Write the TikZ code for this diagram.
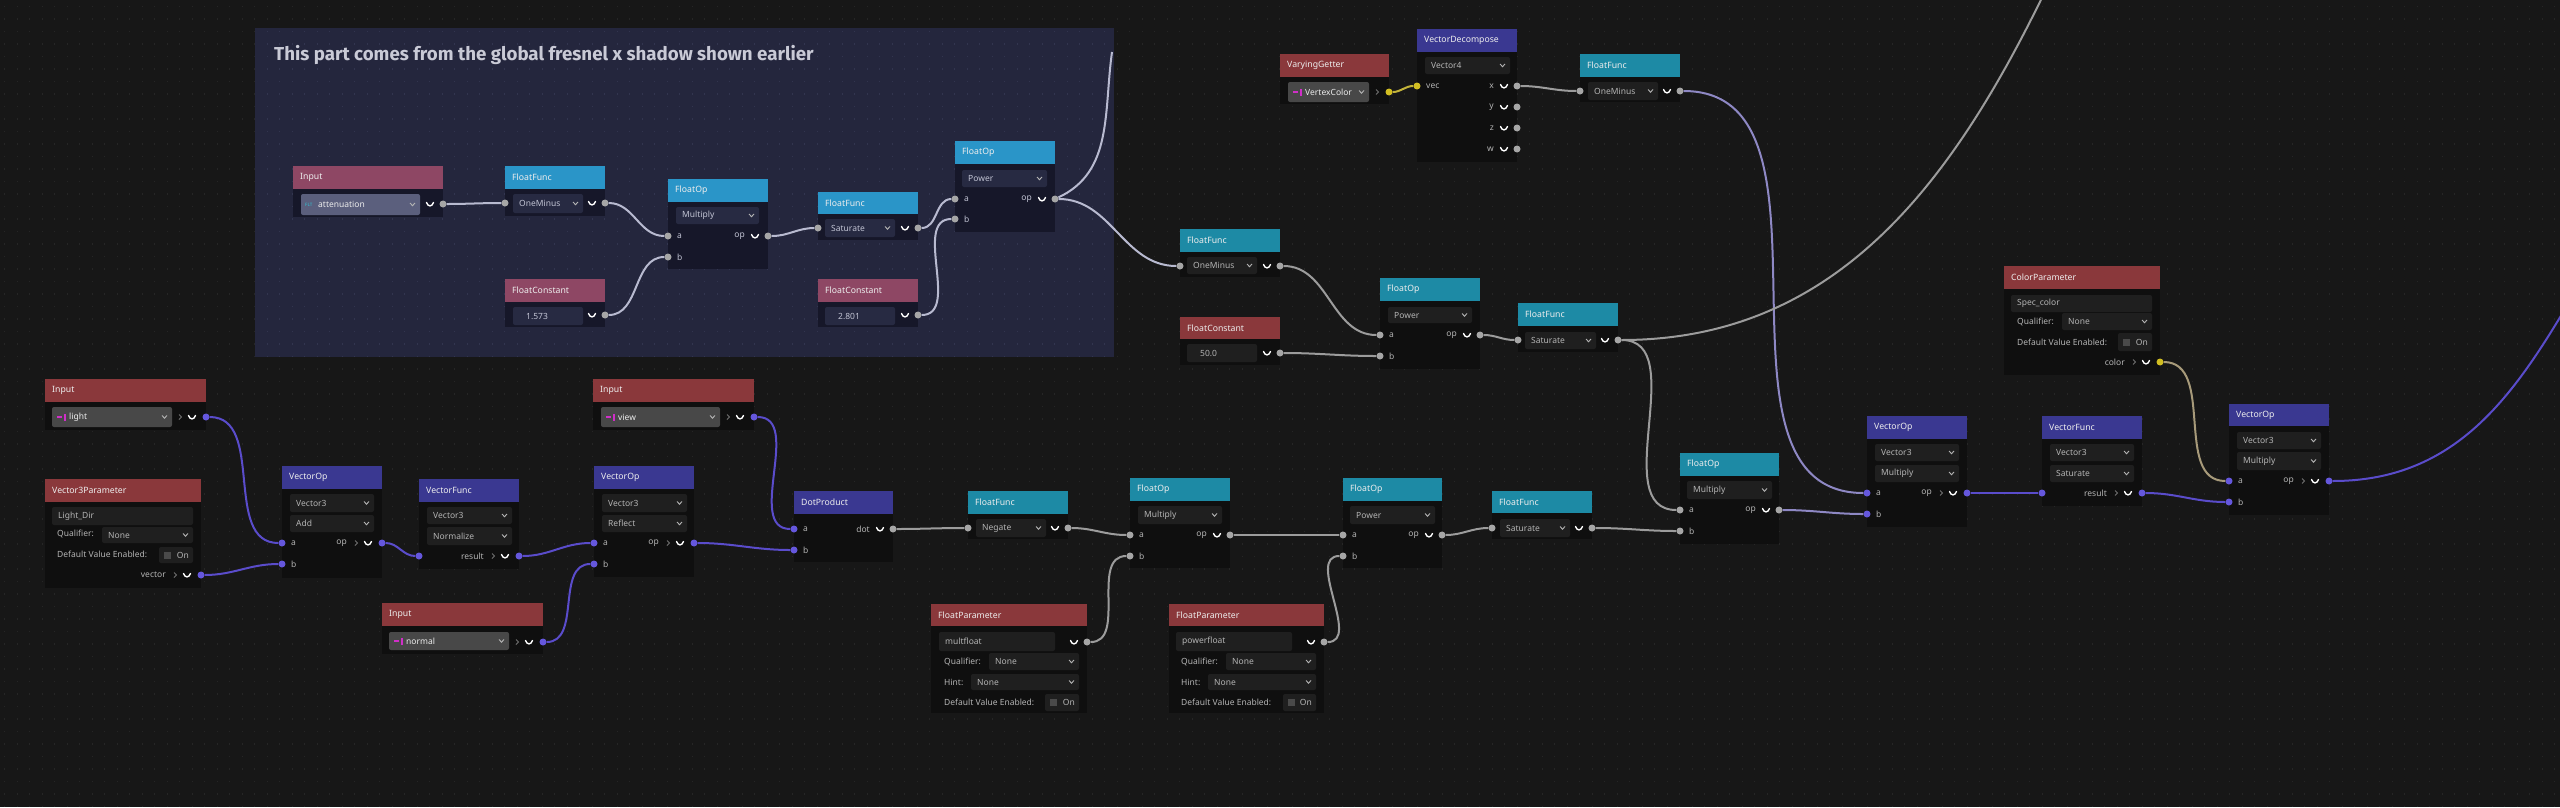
\documentclass[tikz,border=0pt]{standalone}
\usepackage{fontspec}
\setmainfont{Noto Sans}
\newfontfamily\titlefont{Fira Sans}

\definecolor{canvasbg}{HTML}{171717}
\definecolor{canvasdot}{HTML}{262626}
\definecolor{groupbg}{HTML}{24263D}
\definecolor{groupdot}{HTML}{32354F}
\definecolor{bodybg}{HTML}{0F0F0F}
\definecolor{gbodybg}{HTML}{161729}
\definecolor{dropfill}{HTML}{1F1F1F}
\definecolor{gdropfill}{HTML}{272A42}
\definecolor{indropfill}{HTML}{484848}
\definecolor{gindropfill}{HTML}{5B5F7D}
\definecolor{hred}{HTML}{8A383B}
\definecolor{hteal}{HTML}{1D8AA5}
\definecolor{hindigo}{HTML}{3A3891}
\definecolor{gpink}{HTML}{8E4764}
\definecolor{gblue}{HTML}{2A95C8}
\definecolor{headfg}{HTML}{EDEDED}
\definecolor{bodyfg}{HTML}{B4B4B4}
\definecolor{gbodyfg}{HTML}{C2C4D4}
\definecolor{titlefg}{HTML}{C9CAD6}
\definecolor{sockgray}{HTML}{A6A6A6}
\definecolor{sockvec}{HTML}{6557DD}
\definecolor{sockcol}{HTML}{D2BE22}
\definecolor{wiregray}{HTML}{9C9C9C}
\definecolor{gwiregray}{HTML}{B8BAD0}
\definecolor{wirevec}{HTML}{5A4CCB}
\definecolor{wiremix}{HTML}{8E88C4}
\definecolor{wirecol}{HTML}{C4B43A}
\definecolor{wirecolvec}{HTML}{A79A7A}
\definecolor{tickbg}{HTML}{4A4A4A}
\definecolor{iconmag}{HTML}{D02FC8}
\definecolor{iconcyan}{HTML}{2FC8D8}
\definecolor{arrowfg}{HTML}{707070}

% node frame: name, left, top, right, header bottom, body bottom, header colour, title
\newcommand{\gnode}[8]{%
  \fill[nodebody] (#2,#5) rectangle (#4,#6);
  \fill[#7] (#2,#3) rectangle (#4,#5);
  \node[headtext] (#1) at ({#2+7},{(#3+#5)/2}) {#8};}
% text field and drop-down: name, left, top, right, bottom, text
\newcommand{\txtfield}[6]{%
  \fill[dropbg] (#2,#3) rectangle (#4,#5);
  \node[bodytext, anchor=west] (#1) at ({#2+6},{(#3+#5)/2}) {#6};}
\newcommand{\dropdown}[6]{%
  \txtfield{#1}{#2}{#3}{#4}{#5}{#6}
  \draw[chevron] ({#4-10},{(#3+#5)/2-1.5}) -- ({#4-7.5},{(#3+#5)/2+1.2}) -- ({#4-5},{(#3+#5)/2-1.5});}
\newcommand{\vecdrop}[6]{%
  \fill[indropfill, rounded corners=2pt] (#2,#3) rectangle (#4,#5);
  \fill[iconmag] ({#2+5},{(#3+#5)/2-1.2}) rectangle ({#2+10},{(#3+#5)/2+1.2});
  \fill[iconmag] ({#2+11.5},{(#3+#5)/2-3.5}) rectangle ({#2+13.5},{(#3+#5)/2+3.5});
  \node[bodytext, anchor=west, text=headfg] (#1) at ({#2+17},{(#3+#5)/2}) {#6};
  \draw[chevron] ({#4-10},{(#3+#5)/2-1.5}) -- ({#4-7.5},{(#3+#5)/2+1.2}) -- ({#4-5},{(#3+#5)/2-1.5});}
% check box: name, left, top, right, bottom
\newcommand{\onbox}[5]{%
  \fill[dropbg] (#2,#3) rectangle (#4,#5);
  \fill[tickbg] ({#2+5},{(#3+#5)/2-3.5}) rectangle ({#2+12},{(#3+#5)/2+3.5});
  \node[bodytext, anchor=east] (#1) at ({#4-4},{(#3+#5)/2}) {On};}
% sockets: name, x, y, label, socket style
\newcommand{\inport}[5]{%
  \node[#5] (#1) at (#2,#3) {};
  \node[bodytext, anchor=west] (#1-l) at ({#2+9},#3) {#4};}
\newcommand{\outport}[5]{%
  \node[#5] (#1) at (#2,#3) {};
  \draw[cupline] ({#2-16.5},{#3-1.5}) .. controls ({#2-15},{#3+3}) and ({#2-11},{#3+3}) .. ({#2-9.5},{#3-1.5});
  \node[bodytext, anchor=east] (#1-l) at ({#2-23},#3) {#4};}
\newcommand{\voutport}[5]{%
  \node[#5] (#1) at (#2,#3) {};
  \draw[cupline] ({#2-17.5},{#3-1.5}) .. controls ({#2-16},{#3+3}) and ({#2-12},{#3+3}) .. ({#2-10.5},{#3-1.5});
  \draw[smallarrow] ({#2-27},{#3-2.5}) -- ({#2-24.5},#3) -- ({#2-27},{#3+2.5});
  \node[bodytext, anchor=east] (#1-l) at ({#2-35},#3) {#4};}

\begin{document}
\begin{tikzpicture}[
    x=1pt, y=-1pt,
    headtext/.style={anchor=west, inner sep=0pt, text=headfg, font=\fontsize{8.7}{10}\selectfont\bfseries},
    bodytext/.style={inner sep=0pt, text=bodyfg, font=\fontsize{8.5}{10}\selectfont},
    titletext/.style={anchor=west, inner sep=0pt, text=titlefg, font=\titlefont\fontsize{18.7}{21}\selectfont\bfseries},
    icontext/.style={anchor=west, inner sep=0pt, text=iconcyan, font=\fontsize{4.5}{5}\selectfont\bfseries},
    nodebody/.style={fill=bodybg},
    dropbg/.style={fill=dropfill, rounded corners=2pt},
    chevron/.style={draw=bodyfg, line width=0.9pt},
    smallarrow/.style={draw=arrowfg, line width=0.8pt},
    cupline/.style={draw=white, line width=1.4pt, line cap=round},
    griddots/.style={draw=canvasdot, line width=1.3pt, dash pattern=on 1.3pt off 11.2pt},
    sockg/.style={circle, fill=sockgray, inner sep=0pt, minimum size=7pt},
    sockv/.style={circle, fill=sockvec, inner sep=0pt, minimum size=7pt},
    socky/.style={circle, fill=sockcol, inner sep=0pt, minimum size=7pt},
    wire/.style={draw=wiregray, line width=2pt},
    gwire/.style={draw=gwiregray, line width=2pt},
    vwire/.style={draw=wirevec, line width=2pt},
    mixwire/.style={draw=wiremix, line width=2pt},
    ywire/.style={draw=wirecol, line width=2pt}
    ]
    % canvas
    \fill[canvasbg] (0,0) rectangle (2560,807);
    \clip (0,0) rectangle (2560,807);
    \foreach \gy in {6.5,19,...,807} \draw[griddots] (4,\gy) -- (2560,\gy);

    % group frame
    \fill[groupbg] (255,28) rectangle (1114,357);
    \begin{scope}
        \clip (255,28) rectangle (1114,357);
        \foreach \gy in {6.5,19,...,357} \draw[griddots, draw=groupdot] (4,\gy) -- (1114,\gy);
    \end{scope}
    \node[titletext] (grouptitle) at (274,55) {This part comes from the global fresnel x shadow shown earlier};

    \begin{scope}[nodebody/.style={fill=gbodybg}, dropbg/.style={fill=gdropfill, rounded corners=2pt},
        bodytext/.append style={text=gbodyfg}]
        \gnode{inatt}{293}{166}{443}{189}{217}{gpink}{Input}
        \fill[gindropfill, rounded corners=2pt] (301,194) rectangle (420,215);
        \node[icontext] (atticon) at (305,204.5) {FLT};
        \node[bodytext, anchor=west, text=headfg] (attdrop) at (318,204.5) {attenuation};
        \draw[chevron] (410,203) -- (412.5,205.7) -- (415,203);
        \outport{att-o}{443}{204}{}{sockg}

        \gnode{omg}{505}{166}{605}{189}{216}{gblue}{FloatFunc}
        \dropdown{omg-d}{513}{194}{583}{213}{OneMinus}
        \inport{omg-i}{505}{203}{}{sockg}
        \outport{omg-o}{605}{203}{}{sockg}

        \gnode{mulg}{668}{179}{768}{202}{269}{gblue}{FloatOp}
        \dropdown{mulg-d}{676}{207}{759}{224}{Multiply}
        \inport{mulg-a}{668}{236}{a}{sockg}
        \inport{mulg-b}{668}{257}{b}{sockg}
        \outport{mulg-o}{768}{236}{op}{sockg}

        \gnode{satg}{818}{192}{918}{214}{240}{gblue}{FloatFunc}
        \dropdown{satg-d}{825}{219}{895}{237}{Saturate}
        \inport{satg-i}{818}{228}{}{sockg}
        \outport{satg-o}{918}{228}{}{sockg}

        \gnode{powg}{955}{141}{1055}{164}{232}{gblue}{FloatOp}
        \dropdown{powg-d}{962}{170}{1047}{187}{Power}
        \inport{powg-a}{955}{199}{a}{sockg}
        \inport{powg-b}{955}{219}{b}{sockg}
        \outport{powg-o}{1055}{199}{op}{sockg}

        \gnode{cst1}{505}{279}{605}{302}{327}{gpink}{FloatConstant}
        \txtfield{cst1-v}{513}{307}{583}{325}{\hspace{7pt}1.573}
        \outport{cst1-o}{605}{315}{}{sockg}

        \gnode{cst2}{818}{279}{918}{302}{327}{gpink}{FloatConstant}
        \txtfield{cst2-v}{825}{307}{895}{325}{\hspace{7pt}2.801}
        \outport{cst2-o}{918}{315}{}{sockg}
    \end{scope}

    % top row
    \gnode{vary}{1280}{54}{1389}{77}{104}{hred}{VaryingGetter}
    \vecdrop{vary-d}{1288}{82}{1369}{102}{VertexColor}
    \draw[smallarrow] (1376,89.5) -- (1378.5,92) -- (1376,94.5);
    \node[socky] (vary-o) at (1389,92) {};

    \gnode{vdec}{1417}{29}{1517}{52}{162}{hindigo}{VectorDecompose}
    \dropdown{vdec-d}{1425}{57}{1510}{74}{Vector4}
    \inport{vdec-i}{1417}{86}{vec}{socky}
    \outport{vdec-x}{1517}{86}{x}{sockg}
    \outport{vdec-y}{1517}{107}{y}{sockg}
    \outport{vdec-z}{1517}{128}{z}{sockg}
    \outport{vdec-w}{1517}{149}{w}{sockg}

    \gnode{omt}{1580}{54}{1680}{77}{102}{hteal}{FloatFunc}
    \dropdown{omt-d}{1588}{82}{1658}{100}{OneMinus}
    \inport{omt-i}{1580}{91}{}{sockg}
    \outport{omt-o}{1680}{91}{}{sockg}

    % middle row
    \gnode{omm}{1180}{229}{1280}{252}{277}{hteal}{FloatFunc}
    \dropdown{omm-d}{1187}{257}{1257}{274}{OneMinus}
    \inport{omm-i}{1180}{266}{}{sockg}
    \outport{omm-o}{1280}{266}{}{sockg}

    \gnode{cst3}{1180}{317}{1280}{339}{365}{hred}{FloatConstant}
    \txtfield{cst3-v}{1187}{344}{1257}{362}{\hspace{7pt}50.0}
    \outport{cst3-o}{1280}{353}{}{sockg}

    \gnode{powm}{1380}{278}{1480}{301}{369}{hteal}{FloatOp}
    \dropdown{powm-d}{1388}{307}{1472}{323}{Power}
    \inport{powm-a}{1380}{335}{a}{sockg}
    \inport{powm-b}{1380}{356}{b}{sockg}
    \outport{powm-o}{1480}{335}{op}{sockg}

    \gnode{satm}{1518}{303}{1618}{326}{352}{hteal}{FloatFunc}
    \dropdown{satm-d}{1525}{332}{1596}{349}{Saturate}
    \inport{satm-i}{1518}{340}{}{sockg}
    \outport{satm-o}{1618}{340}{}{sockg}

    % right part
    \gnode{mulr}{1680}{453}{1779}{476}{544}{hteal}{FloatOp}
    \dropdown{mulr-d}{1687}{481}{1772}{499}{Multiply}
    \inport{mulr-a}{1680}{510}{a}{sockg}
    \inport{mulr-b}{1680}{531}{b}{sockg}
    \outport{mulr-o}{1779}{510}{op}{sockg}

    \gnode{vop1}{1867}{416}{1967}{439}{527}{hindigo}{VectorOp}
    \dropdown{vop1-d1}{1875}{444}{1959}{461}{Vector3}
    \dropdown{vop1-d2}{1875}{465}{1959}{482}{Multiply}
    \inport{vop1-a}{1867}{493}{a}{sockv}
    \inport{vop1-b}{1867}{514}{b}{sockv}
    \voutport{vop1-o}{1967}{493}{op}{sockv}

    \gnode{vfun}{2042}{416}{2142}{439}{506}{hindigo}{VectorFunc}
    \dropdown{vfun-d1}{2050}{444}{2134}{461}{Vector3}
    \dropdown{vfun-d2}{2050}{465}{2134}{482}{Saturate}
    \inport{vfun-i}{2042}{493}{}{sockv}
    \voutport{vfun-o}{2142}{493}{result}{sockv}

    \gnode{colp}{2004}{266}{2160}{289}{375}{hred}{ColorParameter}
    \txtfield{colp-n}{2011}{295}{2152}{312}{Spec\_color}
    \node[bodytext, anchor=west] (colp-ql) at (2017,322) {Qualifier:};
    \dropdown{colp-q}{2062}{313}{2152}{330}{None}
    \node[bodytext, anchor=west] (colp-dl) at (2017,342) {Default Value Enabled:};
    \onbox{colp-on}{2118}{333}{2152}{351}
    \voutport{colp-o}{2160}{362}{color}{socky}

    \gnode{vop2}{2229}{404}{2329}{426}{515}{hindigo}{VectorOp}
    \dropdown{vop2-d1}{2237}{432}{2321}{449}{Vector3}
    \dropdown{vop2-d2}{2237}{452}{2321}{470}{Multiply}
    \inport{vop2-a}{2229}{481}{a}{sockv}
    \inport{vop2-b}{2229}{502}{b}{sockv}
    \voutport{vop2-o}{2329}{481}{op}{sockv}

    % bottom row
    \gnode{inlight}{45}{379}{206}{402}{430}{hred}{Input}
    \vecdrop{inlight-d}{52}{407}{172}{427}{light}
    \voutport{inlight-o}{206}{417}{}{sockv}

    \gnode{v3p}{45}{479}{201}{502}{588}{hred}{Vector3Parameter}
    \txtfield{v3p-n}{52}{507}{193}{525}{Light\_Dir}
    \node[bodytext, anchor=west] (v3p-ql) at (57,534) {Qualifier:};
    \dropdown{v3p-q}{102}{527}{193}{543}{None}
    \node[bodytext, anchor=west] (v3p-dl) at (57,554) {Default Value Enabled:};
    \onbox{v3p-on}{159}{547}{193}{563}
    \voutport{v3p-o}{201}{575}{vector}{sockv}

    \gnode{vadd}{282}{466}{382}{489}{578}{hindigo}{VectorOp}
    \dropdown{vadd-d1}{290}{494}{374}{512}{Vector3}
    \dropdown{vadd-d2}{290}{515}{374}{532}{Add}
    \inport{vadd-a}{282}{543}{a}{sockv}
    \inport{vadd-b}{282}{564}{b}{sockv}
    \voutport{vadd-o}{382}{543}{op}{sockv}

    \gnode{vnorm}{419}{479}{519}{502}{569}{hindigo}{VectorFunc}
    \dropdown{vnorm-d1}{427}{507}{512}{524}{Vector3}
    \dropdown{vnorm-d2}{427}{527}{512}{545}{Normalize}
    \inport{vnorm-i}{419}{556}{}{sockv}
    \voutport{vnorm-o}{519}{556}{result}{sockv}

    \gnode{innorm}{382}{603}{543}{626}{654}{hred}{Input}
    \vecdrop{innorm-d}{389}{632}{509}{650}{normal}
    \voutport{innorm-o}{543}{642}{}{sockv}

    \gnode{inview}{593}{379}{754}{402}{430}{hred}{Input}
    \vecdrop{inview-d}{601}{407}{720}{427}{view}
    \voutport{inview-o}{754}{417}{}{sockv}

    \gnode{vrefl}{594}{466}{694}{489}{577}{hindigo}{VectorOp}
    \dropdown{vrefl-d1}{602}{494}{687}{512}{Vector3}
    \dropdown{vrefl-d2}{602}{515}{687}{532}{Reflect}
    \inport{vrefl-a}{594}{543}{a}{sockv}
    \inport{vrefl-b}{594}{564}{b}{sockv}
    \voutport{vrefl-o}{694}{543}{op}{sockv}

    \gnode{dot}{794}{491}{893}{514}{562}{hindigo}{DotProduct}
    \inport{dot-a}{794}{529}{a}{sockv}
    \inport{dot-b}{794}{550}{b}{sockv}
    \outport{dot-o}{893}{529}{dot}{sockg}

    \gnode{neg}{968}{491}{1068}{514}{539}{hteal}{FloatFunc}
    \dropdown{neg-d}{976}{519}{1046}{537}{Negate}
    \inport{neg-i}{968}{528}{}{sockg}
    \outport{neg-o}{1068}{528}{}{sockg}

    \gnode{fpm}{931}{604}{1087}{626}{713}{hred}{FloatParameter}
    \txtfield{fpm-n}{939}{632}{1055}{651}{multfloat}
    \outport{fpm-o}{1087}{642}{}{sockg}
    \node[bodytext, anchor=west] (fpm-ql) at (944,662) {Qualifier:};
    \dropdown{fpm-q}{989}{653}{1079}{670}{None}
    \node[bodytext, anchor=west] (fpm-hl) at (944,682) {Hint:};
    \dropdown{fpm-h}{971}{674}{1079}{690}{None}
    \node[bodytext, anchor=west] (fpm-dl) at (944,702) {Default Value Enabled:};
    \onbox{fpm-on}{1045}{694}{1079}{711}

    \gnode{mulb}{1130}{478}{1230}{501}{568}{hteal}{FloatOp}
    \dropdown{mulb-d}{1138}{506}{1222}{524}{Multiply}
    \inport{mulb-a}{1130}{535}{a}{sockg}
    \inport{mulb-b}{1130}{556}{b}{sockg}
    \outport{mulb-o}{1230}{535}{op}{sockg}

    \gnode{powb}{1343}{478}{1442}{501}{568}{hteal}{FloatOp}
    \dropdown{powb-d}{1350}{506}{1435}{524}{Power}
    \inport{powb-a}{1343}{535}{a}{sockg}
    \inport{powb-b}{1343}{556}{b}{sockg}
    \outport{powb-o}{1442}{535}{op}{sockg}

    \gnode{fpp}{1169}{604}{1324}{626}{713}{hred}{FloatParameter}
    \txtfield{fpp-n}{1176}{632}{1292}{651}{powerfloat}
    \outport{fpp-o}{1324}{642}{}{sockg}
    \node[bodytext, anchor=west] (fpp-ql) at (1181,662) {Qualifier:};
    \dropdown{fpp-q}{1226}{653}{1316}{670}{None}
    \node[bodytext, anchor=west] (fpp-hl) at (1181,682) {Hint:};
    \dropdown{fpp-h}{1208}{674}{1316}{690}{None}
    \node[bodytext, anchor=west] (fpp-dl) at (1181,702) {Default Value Enabled:};
    \onbox{fpp-on}{1283}{694}{1316}{711}

    \gnode{satb}{1492}{491}{1592}{513}{539}{hteal}{FloatFunc}
    \dropdown{satb-d}{1500}{519}{1570}{537}{Saturate}
    \inport{satb-i}{1492}{528}{}{sockg}
    \outport{satb-o}{1592}{528}{}{sockg}

    % wires
    \coordinate (offtop1) at (1112,52);
    \coordinate (offtop2) at (2060,-40);
    \coordinate (offright) at (2650,170);

    \draw[gwire] (att-o) to[out=0,in=180] (omg-i);
    \draw[gwire] (omg-o) to[out=0,in=180] (mulg-a);
    \draw[gwire] (cst1-o) to[out=0,in=180] (mulg-b);
    \draw[gwire] (mulg-o) to[out=0,in=180] (satg-i);
    \draw[gwire] (satg-o) to[out=0,in=180] (powg-a);
    \draw[gwire] (cst2-o) to[out=0,in=180] (powg-b);
    \draw[gwire] (powg-o) to[out=25,in=-98] (offtop1);
    \draw[gwire] (powg-o) to[out=0,in=180] (omm-i);

    \draw[ywire] (vary-o) to[out=0,in=180] (vdec-i);
    \draw[wire] (vdec-x) to[out=0,in=180] (omt-i);
    \draw[mixwire] (omt-o) to[out=0,in=180] (vop1-a);

    \draw[wire] (omm-o) to[out=0,in=180] (powm-a);
    \draw[wire] (cst3-o) to[out=0,in=180] (powm-b);
    \draw[wire] (powm-o) to[out=0,in=180] (satm-i);
    \draw[wire] (satm-o) to[out=0,in=-115] (offtop2);
    \draw[wire] (satm-o) to[out=0,in=180] (mulr-a);
    \draw[wire] (satb-o) to[out=0,in=180] (mulr-b);
    \draw[mixwire] (mulr-o) to[out=0,in=180] (vop1-b);

    \draw[vwire] (vop1-o) to[out=0,in=180] (vfun-i);
    \draw[vwire] (vfun-o) to[out=0,in=180] (vop2-b);
    \draw[draw=wirecolvec, line width=2pt] (colp-o) to[out=0,in=180] (vop2-a);
    \draw[vwire] (vop2-o) to[out=0,in=235] (offright);

    \draw[vwire] (inlight-o) to[out=0,in=180] (vadd-a);
    \draw[vwire] (v3p-o) to[out=0,in=180] (vadd-b);
    \draw[vwire] (vadd-o) to[out=0,in=180] (vnorm-i);
    \draw[vwire] (vnorm-o) to[out=0,in=180] (vrefl-a);
    \draw[vwire] (innorm-o) to[out=0,in=180] (vrefl-b);
    \draw[vwire] (inview-o) to[out=0,in=180] (dot-a);
    \draw[vwire] (vrefl-o) to[out=0,in=180] (dot-b);

    \draw[wire] (dot-o) to[out=0,in=180] (neg-i);
    \draw[wire] (neg-o) to[out=0,in=180] (mulb-a);
    \draw[wire] (fpm-o) to[out=0,in=180] (mulb-b);
    \draw[wire] (mulb-o) to[out=0,in=180] (powb-a);
    \draw[wire] (fpp-o) to[out=0,in=180] (powb-b);
    \draw[wire] (powb-o) to[out=0,in=180] (satb-i);
\end{tikzpicture}
\end{document}
